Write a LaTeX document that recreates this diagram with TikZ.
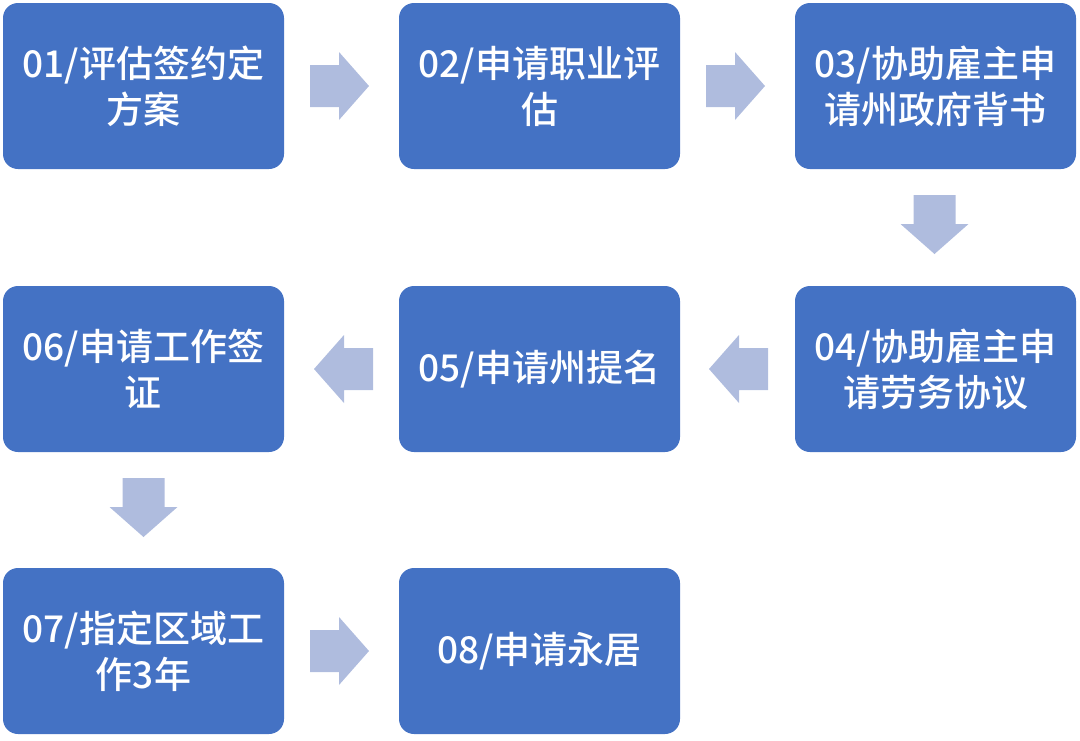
\documentclass[tikz,border=0pt]{standalone}
\usepackage{fontspec}
\setmainfont{Noto Sans CJK SC}[BoldFont={Noto Sans CJK SC Medium}]
\definecolor{boxblue}{HTML}{4472C4}
\definecolor{arrowc}{RGB}{175,188,222}
\tikzset{
  stepbox/.style={rectangle, rounded corners=15pt, fill=boxblue, draw=none,
    minimum width=281pt, minimum height=166pt, text=white, align=center,
    inner sep=0pt, font=\fontsize{37pt}{46pt}\selectfont\bfseries},
  blockarrow/.pic={\fill[arrowc] (0,-21) -- (29,-21) -- (29,-34) -- (59,0) -- (29,34) -- (29,21) -- (0,21) -- cycle;}
}
\begin{document}
\begin{tikzpicture}[x=1pt,y=-1pt]
\useasboundingbox (0,0) rectangle (1080,740);
\node[stepbox] (b1) at (143.5,86) {01/评估签约定\\方案};
\node[stepbox] (b2) at (539.5,86) {02/申请职业评\\估};
\node[stepbox] (b3) at (935.5,86) {03/协助雇主申\\请州政府背书};
\node[stepbox] (b4) at (935.5,369) {04/协助雇主申\\请劳务协议};
\node[stepbox] (b5) at (539.5,369) {05/申请州提名};
\node[stepbox] (b6) at (143.5,369) {06/申请工作签\\证};
\node[stepbox] (b7) at (143.5,651) {07/指定区域工\\作3年};
\node[stepbox] (b8) at (539.5,651) {08/申请永居};
% arrows
\pic at (310,86) {blockarrow};
\pic at (706,86) {blockarrow};
\pic[rotate=-90] at (934.5,195) {blockarrow};
\pic[rotate=180] at (768,369) {blockarrow};
\pic[rotate=180] at (373,369) {blockarrow};
\pic[rotate=-90] at (143.5,478) {blockarrow};
\pic at (310,651) {blockarrow};
\end{tikzpicture}
\end{document}
